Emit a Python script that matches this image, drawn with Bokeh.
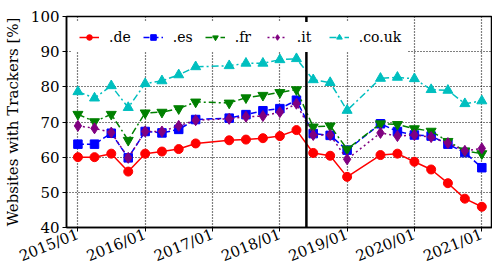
import math
import pandas as pd
from bokeh.plotting import figure
from bokeh.models import Span, FixedTicker, DatetimeTickFormatter, Range1d
from bokeh.embed import file_html
from bokeh.resources import INLINE

dates = ["2015-01-01", "2015-04-01", "2015-07-01", "2015-10-01", "2016-01-01", "2016-04-01",
         "2016-07-01", "2016-10-01", "2017-04-01", "2017-07-01", "2017-10-01", "2018-01-01",
         "2018-04-01", "2018-07-01", "2018-10-01", "2019-01-01", "2019-07-01", "2019-10-01",
         "2020-01-01", "2020-04-01", "2020-07-01", "2020-10-01", "2021-01-01"]
de = [60.0, 60.0, 61.0, 55.9, 61.0, 61.6, 62.3, 63.9, 64.8, 65.0, 65.4, 66.0, 67.7,
      61.2, 60.4, 54.4, 60.6, 61.0, 58.7, 56.5, 52.6, 48.2, 45.9]
es = [63.7, 63.7, 66.8, 59.8, 67.3, 66.9, 67.9, 70.7, 71.1, 72.1, 73.2, 73.8, 76.2,
      66.7, 66.2, 62.0, 69.5, 67.3, 66.3, 66.0, 63.7, 61.3, 57.0]
fr = [72.2, 70.1, 72.2, 64.8, 72.6, 72.8, 73.8, 75.7, 75.4, 76.9, 77.6, 78.4, 79.2,
      68.6, 68.9, 62.3, 69.5, 69.3, 68.1, 67.4, 64.5, 61.8, 61.0]
it = [68.9, 68.2, 67.0, 59.8, 67.3, 67.3, 68.9, 70.5, 70.9, 71.5, 71.7, 72.8, 75.2,
      66.3, 66.3, 59.4, 66.9, 66.0, 66.3, 65.7, 64.0, 61.8, 62.5]
uk = [78.6, 76.8, 80.3, 74.1, 80.9, 81.7, 83.4, 85.7, 86.0, 86.7, 86.7, 87.7, 88.0,
      82.0, 81.2, 73.3, 82.4, 82.7, 82.3, 79.2, 79.0, 75.2, 76.0]
series_names = [".de", ".es", ".fr", ".it", ".co.uk"]
x_tick_dates = ["2015-01-01", "2016-01-01", "2017-01-01", "2018-01-01",
                "2019-01-01", "2020-01-01", "2021-01-01"]
y_ticks = [40, 50, 60, 70, 80, 90, 100]
gdpr_date = "2018-05-25"

FONT = "DejaVu Serif"

x = pd.to_datetime(dates)
def ms(d):
    return pd.Timestamp(d).value / 1e6

x_start = ms("2014-10-31")
x_end = ms("2021-02-28")

p = figure(width=492, height=278, x_axis_type="datetime",
           x_range=Range1d(x_start, x_end), y_range=Range1d(40, 100),
           output_backend="svg", toolbar_location=None,
           min_border_left=66, min_border_right=0, min_border_top=16, min_border_bottom=51)

styles = [
    (de, "#ff0000", "solid", "circle", 9),
    (es, "#0000ff", "6 3", "square", 8.5),
    (fr, "#008000", "7 3 2 3", "inverted_triangle", 10),
    (it, "#800080", "2 3", "diamond", 11),
    (uk, "#00bfbf", "7 3 2 3", "triangle", 10),
]
for name, (vals, col, dash, marker, sz) in zip(series_names, styles):
    p.line(x, vals, line_color=col, line_width=1.5, line_dash=dash, legend_label=name)
    p.scatter(x, vals, marker=marker, size=sz, fill_color=col, line_color=col, legend_label=name)

p.add_layout(Span(location=ms(gdpr_date), dimension="height", line_color="black", line_width=2.5))

p.xaxis.ticker = FixedTicker(ticks=[ms(d) for d in x_tick_dates])
fmt = "%Y/%m"
p.xaxis.formatter = DatetimeTickFormatter(years=fmt, months=fmt, days=fmt, hours=fmt,
                                          minutes=fmt, seconds=fmt, milliseconds=fmt,
                                          minsec=fmt, hourmin=fmt)
p.xaxis.major_label_orientation = math.radians(22)
p.yaxis.ticker = FixedTicker(ticks=y_ticks)
p.yaxis.axis_label = "Websites with Trackers [%]"

for ax in (p.xaxis, p.yaxis):
    ax.major_label_text_font = FONT
    ax.major_label_text_font_size = "15px"
    ax.major_label_text_color = "black"
    ax.axis_label_text_font = FONT
    ax.axis_label_text_font_size = "15px"
    ax.axis_label_text_font_style = "normal"
    ax.axis_label_text_color = "black"
    ax.axis_line_color = "black"
    ax.axis_line_width = 1.5
    ax.major_tick_line_color = "black"
    ax.major_tick_in = 0
    ax.major_tick_out = 4
    ax.minor_tick_line_color = None
    ax.major_label_standoff = 3
    ax.axis_label_standoff = 6
p.xaxis.major_label_standoff = 2

for g in (p.xgrid, p.ygrid):
    g.grid_line_color = "black"
    g.grid_line_dash = "1 2"
    g.grid_line_width = 1.2

p.outline_line_color = "black"
p.outline_line_width = 1.5

lg = p.legend[0]
lg.orientation = "horizontal"
lg.location = "top_left"
lg.margin = 6
lg.padding = 7
lg.spacing = 12
lg.label_standoff = 10
lg.glyph_width = 20
lg.glyph_height = 14
lg.label_height = 14
lg.label_text_font = FONT
lg.label_text_font_size = "14px"
lg.label_text_color = "black"
lg.background_fill_color = "white"
lg.background_fill_alpha = 1.0
lg.border_line_alpha = 0

open("out.html", "w").write(file_html(p, INLINE))
